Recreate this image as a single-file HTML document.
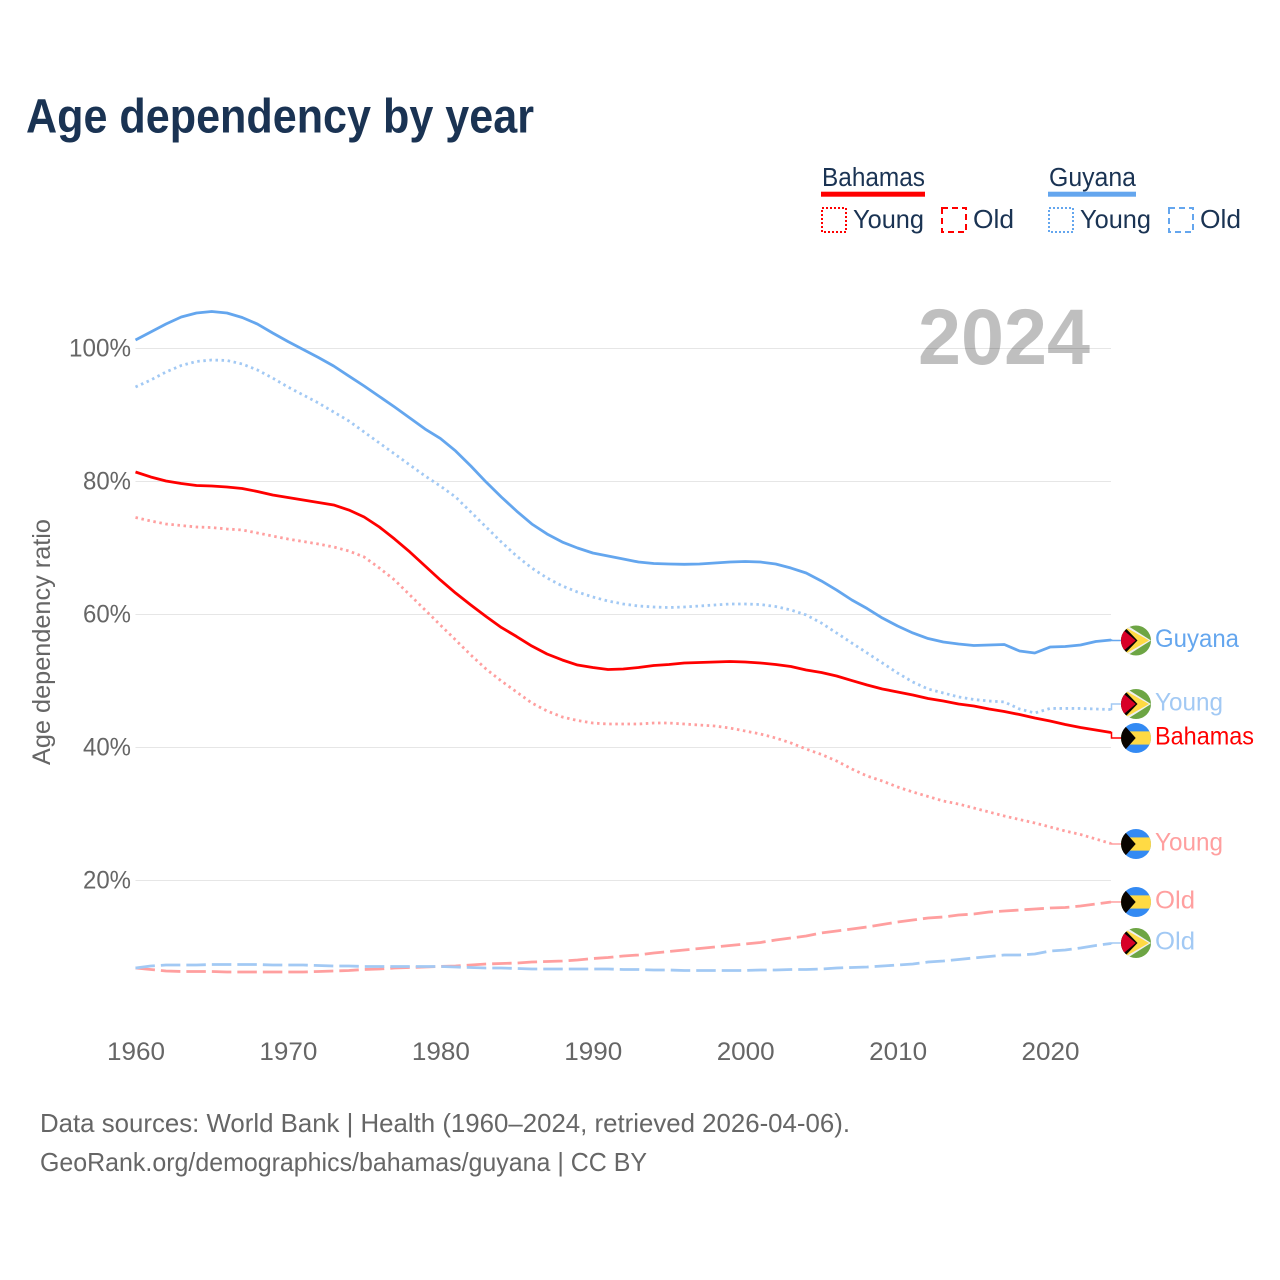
<!DOCTYPE html>
<html lang="en">
<head>
<meta charset="utf-8">
<title>Age dependency by year</title>
<style>
html,body{margin:0;padding:0;background:#fff;}
svg{display:block;}
text{font-family:"Liberation Sans",sans-serif;}
</style>
</head>
<body>
<svg id="chart" xmlns="http://www.w3.org/2000/svg" width="1280" height="1280" viewBox="0 0 1280 1280">
  <rect width="1280" height="1280" fill="#ffffff"/>
  <text x="26" y="132.7" font-size="48.5" font-weight="700" fill="#1a3353" textLength="508" lengthAdjust="spacingAndGlyphs">Age dependency by year</text>

  <g>
    <text x="822" y="186" font-size="25.5" fill="#1a3353" textLength="103" lengthAdjust="spacingAndGlyphs">Bahamas</text>
    <rect x="821" y="191.7" width="104" height="5" fill="#ff0000"/>
    <rect x="822" y="208" width="24" height="24" fill="none" stroke="#ff0000" stroke-width="2" stroke-dasharray="2 2"/>
    <text x="853" y="228" font-size="26" fill="#1a3353" textLength="71" lengthAdjust="spacingAndGlyphs">Young</text>
    <rect x="942" y="208" width="24" height="24" fill="none" stroke="#ff0000" stroke-width="2" stroke-dasharray="6 4"/>
    <text x="973" y="228" font-size="26" fill="#1a3353" textLength="41" lengthAdjust="spacingAndGlyphs">Old</text>

    <text x="1049" y="186" font-size="25.5" fill="#1a3353" textLength="87" lengthAdjust="spacingAndGlyphs">Guyana</text>
    <rect x="1048" y="191.7" width="88" height="5" fill="#64a6ee"/>
    <rect x="1049" y="208" width="24" height="24" fill="none" stroke="#64a6ee" stroke-width="2" stroke-dasharray="2 2"/>
    <text x="1080" y="228" font-size="26" fill="#1a3353" textLength="71" lengthAdjust="spacingAndGlyphs">Young</text>
    <rect x="1169" y="208" width="24" height="24" fill="none" stroke="#64a6ee" stroke-width="2" stroke-dasharray="6 4"/>
    <text x="1200" y="228" font-size="26" fill="#1a3353" textLength="41" lengthAdjust="spacingAndGlyphs">Old</text>
  </g>

  <g id="grid"></g>
  <text x="918" y="364" font-size="79" font-weight="700" fill="#000000" fill-opacity="0.25" textLength="172" lengthAdjust="spacingAndGlyphs">2024</text>
  <g id="y-axis"></g>
  <g id="x-axis"></g>
  <text transform="translate(50,765) rotate(-90)" font-size="25" fill="#666666" textLength="246" lengthAdjust="spacingAndGlyphs">Age dependency ratio</text>
  <g id="series"></g>
  <g id="end-labels"></g>

  <text x="40" y="1132" font-size="26" fill="#666666" textLength="810" lengthAdjust="spacingAndGlyphs">Data sources: World Bank | Health (1960–2024, retrieved 2026-04-06).</text>
  <text x="40" y="1171" font-size="26" fill="#666666" textLength="607" lengthAdjust="spacingAndGlyphs">GeoRank.org/demographics/bahamas/guyana | CC BY</text>
</svg>

<script>
const startYear = 1960;
const yTickValues = [100, 80, 60, 40, 20];
const xTickValues = [1960, 1970, 1980, 1990, 2000, 2010, 2020];

const guyanaTotal = [101.28,102.48,103.68,104.74,105.34,105.56,105.34,104.66,103.68,102.33,101.05,99.85,98.65,97.37,95.86,94.36,92.78,91.2,89.55,87.89,86.47,84.59,82.33,79.92,77.67,75.56,73.61,72.11,70.9,70.0,69.25,68.8,68.35,67.89,67.67,67.59,67.55,67.59,67.74,67.89,67.97,67.89,67.59,66.99,66.24,65.04,63.68,62.18,60.9,59.47,58.27,57.22,56.39,55.86,55.56,55.34,55.41,55.49,54.51,54.21,55.11,55.19,55.41,55.94,56.17];
const guyanaYoung = [94.21,95.26,96.47,97.44,98.05,98.27,98.2,97.67,96.77,95.56,94.21,93.01,91.81,90.45,89.1,87.44,85.79,84.14,82.48,80.83,79.32,77.67,75.41,73.16,70.9,68.8,66.99,65.49,64.29,63.38,62.63,62.03,61.58,61.28,61.13,61.05,61.13,61.28,61.43,61.58,61.58,61.5,61.2,60.68,59.93,58.72,57.22,55.71,54.21,52.71,51.2,49.85,48.8,48.2,47.6,47.22,46.99,46.85,45.79,45.19,45.87,45.87,45.87,45.79,45.71];
const guyanaOld = [6.84,7.14,7.29,7.29,7.29,7.37,7.37,7.37,7.37,7.29,7.29,7.29,7.22,7.14,7.14,7.07,7.07,7.07,7.07,7.07,7.07,6.99,6.92,6.84,6.84,6.77,6.69,6.69,6.69,6.69,6.69,6.69,6.62,6.62,6.54,6.54,6.47,6.47,6.47,6.47,6.47,6.54,6.54,6.62,6.62,6.69,6.84,6.92,6.99,7.14,7.29,7.44,7.74,7.89,8.12,8.35,8.57,8.8,8.8,8.95,9.4,9.55,9.85,10.23,10.53];
const bahamasTotal = [81.43,80.68,80.08,79.7,79.4,79.32,79.17,78.95,78.5,77.97,77.59,77.22,76.84,76.47,75.71,74.66,73.16,71.35,69.4,67.29,65.19,63.23,61.43,59.7,58.05,56.69,55.26,54.06,53.16,52.4,52.03,51.73,51.8,52.03,52.33,52.48,52.71,52.78,52.86,52.93,52.86,52.71,52.48,52.18,51.65,51.28,50.75,50.07,49.4,48.8,48.35,47.9,47.37,46.99,46.54,46.24,45.79,45.41,44.96,44.44,43.98,43.46,43.0,42.63,42.26];
const bahamasYoung = [74.59,74.06,73.61,73.38,73.16,73.08,72.86,72.71,72.26,71.8,71.35,70.98,70.6,70.15,69.55,68.65,66.99,65.19,62.93,60.68,58.42,56.17,53.91,51.8,50.0,48.35,46.69,45.49,44.59,44.06,43.68,43.53,43.53,43.53,43.68,43.68,43.53,43.38,43.23,42.93,42.48,42.03,41.43,40.68,39.77,38.95,37.97,36.77,35.71,34.96,34.06,33.31,32.63,31.95,31.5,30.9,30.3,29.7,29.17,28.65,28.05,27.44,26.92,26.24,25.56];
const bahamasOld = [6.84,6.62,6.39,6.32,6.32,6.32,6.24,6.24,6.24,6.24,6.24,6.24,6.32,6.39,6.47,6.62,6.69,6.84,6.92,6.99,7.07,7.14,7.29,7.44,7.52,7.59,7.74,7.82,7.89,8.05,8.27,8.42,8.65,8.8,9.1,9.32,9.55,9.77,10.0,10.23,10.45,10.68,11.05,11.35,11.65,12.11,12.41,12.71,13.01,13.38,13.76,14.06,14.36,14.51,14.81,14.96,15.26,15.41,15.56,15.71,15.86,15.94,16.17,16.47,16.77];

const NS = 'http://www.w3.org/2000/svg';
const plot = { left: 135.5, right: 1111, zeroY: 1013.5, pxPerPct: 6.65, pxPerYear: (1111 - 135.5) / 64 };
const xScale = function (year) { return plot.left + (year - startYear) * plot.pxPerYear; };
const yScale = function (pct) { return plot.zeroY - pct * plot.pxPerPct; };

function svgEl(tag, attrs, parent) {
  const el = document.createElementNS(NS, tag);
  for (const k in attrs) el.setAttribute(k, attrs[k]);
  parent.appendChild(el);
  return el;
}

const gridLayer = document.getElementById('grid');


const yAxisLayer = document.getElementById('y-axis');


const xAxisLayer = document.getElementById('x-axis');


const seriesLayer = document.getElementById('series');


const labelLayer = document.getElementById('end-labels');



yTickValues.forEach(function (v) {
  const y = yScale(v);
  const line = svgEl('line', { x1: plot.left, x2: plot.right, y1: y, y2: y, stroke: '#e6e6e6', 'stroke-width': 1 }, gridLayer);
  
  
  const label = svgEl('text', { x: 131, y: y + 8, 'font-size': 25, fill: '#666666', 'text-anchor': 'end', textLength: v === 100 ? 62 : 48, lengthAdjust: 'spacingAndGlyphs' }, yAxisLayer);
  
  
  label.textContent = v + '%';
});

xTickValues.forEach(function (year) {
  const label = svgEl('text', { x: xScale(year) + 0.5, y: 1060, 'font-size': 25, fill: '#666666', 'text-anchor': 'middle', textLength: 58, lengthAdjust: 'spacingAndGlyphs' }, xAxisLayer);
  
  
  label.textContent = year;
});

const palette = { guyana: '#64a6ee', guyanaLight: '#a2c9f4', bahamas: '#ff0000', bahamasLight: '#ff9f9f' };
const dotted = '2.5 3.6';
const dashed = '19.5 6';

const seriesList = [
  { id: 'bahamas-old', values: bahamasOld, color: palette.bahamasLight, dash: dashed, width: 2.8, text: 'Old', flag: 'bahamas', shift: 0, textW: 40 },
  { id: 'guyana-old', values: guyanaOld, color: palette.guyanaLight, dash: dashed, width: 2.8, text: 'Old', flag: 'guyana', shift: -0.5, textW: 40 },
  { id: 'bahamas-young', values: bahamasYoung, color: palette.bahamasLight, dash: dotted, width: 2.8, text: 'Young', flag: 'bahamas', shift: 0.5, textW: 68 },
  { id: 'guyana-young', values: guyanaYoung, color: palette.guyanaLight, dash: dotted, width: 2.8, text: 'Young', flag: 'guyana', shift: -5.5, textW: 68 },
  { id: 'bahamas-total', values: bahamasTotal, color: palette.bahamas, dash: null, width: 2.8, text: 'Bahamas', flag: 'bahamas', shift: 5.5, textW: 99 },
  { id: 'guyana-total', values: guyanaTotal, color: palette.guyana, dash: null, width: 2.8, text: 'Guyana', flag: 'guyana', shift: 0.5, textW: 84 }
];

function drawFlag(kind, group, clipId) {
  const defs = svgEl('defs', {}, group);
  const clip = svgEl('clipPath', { id: clipId }, defs);
  svgEl('circle', { r: 15 }, clip);
  const g = svgEl('g', { 'clip-path': 'url(#' + clipId + ')' }, group);
  if (kind === 'bahamas') {
    svgEl('rect', { x: -15, y: -15, width: 30, height: 30, fill: '#338af3' }, g);
    svgEl('rect', { x: -15, y: -6.6, width: 30, height: 13.2, fill: '#ffda44' }, g);
    svgEl('path', { d: 'M-15,-14 L-10.5,-11.5 L-0.3,0 L-10.5,11.5 L-15,14 Z', fill: '#0a0500' }, g);
  } else {
    svgEl('rect', { x: -15, y: -15, width: 30, height: 30, fill: '#6da544' }, g);
    svgEl('path', { d: 'M-8.7,-15 L15,0 L-8.7,15 L-15,15 L-15,-15 Z', fill: '#f0f0f0' }, g);
    svgEl('path', { d: 'M-9,-12.5 L13,0 L-9,12.5 L-15,12.5 L-15,-12.5 Z', fill: '#ffda44' }, g);
    svgEl('path', { d: 'M-11,-13 L1.5,0 L-11,13 L-15,13 L-15,-13 Z', fill: '#0a0500' }, g);
    svgEl('path', { d: 'M-12.7,-10.5 L-0.3,0 L-12.7,10.5 L-15,10.5 L-15,-10.5 Z', fill: '#d80027' }, g);
  }
}

seriesList.forEach(function (s) {
  const pts = s.values.map(function (v, i) { return xScale(startYear + i).toFixed(2) + ',' + yScale(v).toFixed(2); });
  const attrs = { d: 'M' + pts.join('L'), fill: 'none', stroke: s.color, 'stroke-width': s.width, 'stroke-linejoin': 'round' };
  if (s.dash) attrs['stroke-dasharray'] = s.dash;
  const path = svgEl('path', attrs, seriesLayer);
  
  

  const lastValue = s.values[s.values.length - 1];
  const endY = yScale(lastValue);
  const flagY = endY + s.shift;
  const connector = svgEl('path', { d: 'M' + plot.right + ',' + endY + 'L' + (plot.right + 0.5) + ',' + endY + 'L' + (plot.right + 0.5) + ',' + flagY + 'L1121,' + flagY, fill: 'none', stroke: s.color, 'stroke-width': 1.5 }, labelLayer);
  
  

  const flag = svgEl('g', { transform: 'translate(1136,' + flagY + ')' }, labelLayer);
  
  
  drawFlag(s.flag, flag, 'clip-' + s.id);

  const label = svgEl('text', { x: 1155, y: flagY + 6.5, 'font-size': 25, fill: s.color, textLength: s.textW, lengthAdjust: 'spacingAndGlyphs' }, labelLayer);
  
  
  label.textContent = s.text;
});
</script>
</body>
</html>
